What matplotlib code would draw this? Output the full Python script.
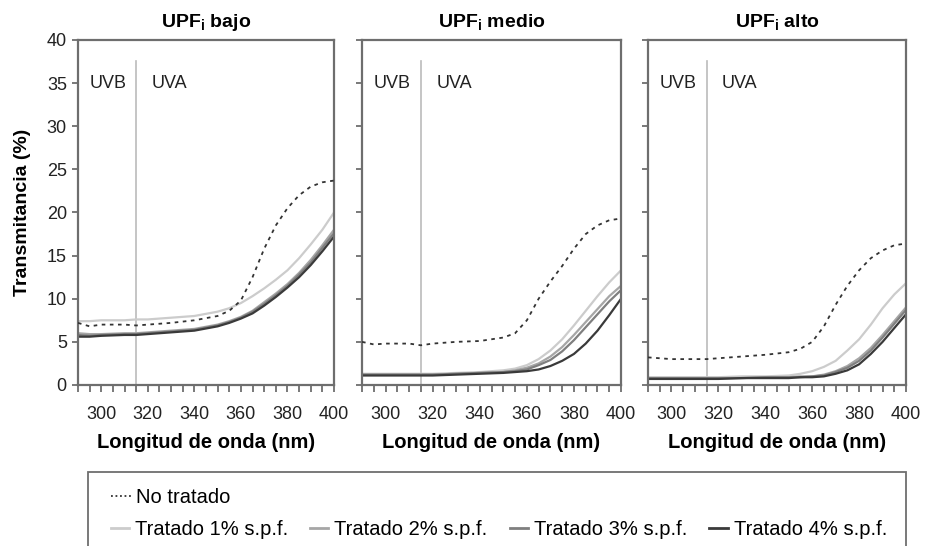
import matplotlib.pyplot as plt
from matplotlib.lines import Line2D
from matplotlib.patches import Rectangle

plt.rcParams['font.family'] = ['Liberation Sans', 'DejaVu Sans']

# wavelength grid (nm)
wl = [290, 295, 300, 310, 315, 320, 330, 340, 350, 355, 360, 365, 370, 375, 380, 385, 390, 395, 400]

titles = ['UPF$_\\mathregular{i}$ bajo', 'UPF$_\\mathregular{i}$ medio', 'UPF$_\\mathregular{i}$ alto']

# UPF bajo
bajo_nt = [7.2, 6.8, 7.0, 7.0, 6.9, 7.0, 7.2, 7.5, 8.0, 8.6, 9.8, 12.5, 15.8, 18.5, 20.5, 22.0, 23.0, 23.5, 23.7]
bajo_1 = [7.4, 7.4, 7.5, 7.5, 7.6, 7.6, 7.8, 8.0, 8.5, 8.9, 9.5, 10.3, 11.2, 12.2, 13.3, 14.7, 16.3, 18.0, 20.0]
bajo_2 = [6.0, 5.9, 5.9, 6.0, 6.0, 6.1, 6.3, 6.5, 7.0, 7.4, 7.9, 8.6, 9.6, 10.6, 11.7, 13.0, 14.5, 16.2, 18.0]
bajo_3 = [5.8, 5.7, 5.8, 5.9, 5.9, 6.0, 6.2, 6.4, 6.9, 7.3, 7.8, 8.5, 9.4, 10.4, 11.5, 12.8, 14.2, 15.9, 17.6]
bajo_4 = [5.6, 5.6, 5.7, 5.8, 5.8, 5.9, 6.1, 6.3, 6.8, 7.2, 7.7, 8.3, 9.2, 10.2, 11.3, 12.5, 13.9, 15.5, 17.2]

# UPF medio
medio_nt = [5.0, 4.7, 4.8, 4.8, 4.6, 4.8, 5.0, 5.1, 5.5, 6.0, 7.5, 10.0, 12.0, 13.8, 15.8, 17.5, 18.5, 19.1, 19.3]
medio_1 = [1.3, 1.3, 1.3, 1.3, 1.3, 1.3, 1.4, 1.5, 1.7, 1.9, 2.3, 3.0, 4.0, 5.3, 6.9, 8.6, 10.3, 11.9, 13.3]
medio_2 = [1.2, 1.2, 1.2, 1.2, 1.2, 1.2, 1.3, 1.4, 1.5, 1.7, 2.0, 2.5, 3.3, 4.4, 5.8, 7.3, 8.8, 10.3, 11.5]
medio_3 = [1.2, 1.2, 1.2, 1.2, 1.2, 1.2, 1.3, 1.4, 1.5, 1.6, 1.8, 2.3, 2.9, 3.9, 5.2, 6.7, 8.2, 9.7, 11.0]
medio_4 = [1.1, 1.1, 1.1, 1.1, 1.1, 1.1, 1.2, 1.3, 1.4, 1.5, 1.6, 1.8, 2.2, 2.8, 3.6, 4.8, 6.3, 8.1, 10.0]

# UPF alto
alto_nt = [3.2, 3.1, 3.0, 3.0, 3.0, 3.1, 3.3, 3.5, 3.8, 4.2, 5.0, 6.8, 9.3, 11.5, 13.3, 14.7, 15.6, 16.2, 16.4]
alto_1 = [0.9, 0.9, 0.9, 0.9, 0.9, 0.9, 1.0, 1.0, 1.1, 1.3, 1.6, 2.1, 2.8, 4.0, 5.3, 7.0, 8.9, 10.5, 11.8]
alto_2 = [0.8, 0.8, 0.8, 0.8, 0.8, 0.8, 0.8, 0.9, 0.9, 1.0, 1.0, 1.2, 1.6, 2.2, 3.1, 4.3, 5.8, 7.4, 9.0]
alto_3 = [0.8, 0.8, 0.8, 0.8, 0.8, 0.8, 0.8, 0.9, 0.9, 0.9, 1.0, 1.1, 1.5, 2.0, 2.8, 4.0, 5.5, 7.1, 8.7]
alto_4 = [0.7, 0.7, 0.7, 0.7, 0.7, 0.7, 0.8, 0.8, 0.8, 0.9, 0.9, 1.0, 1.3, 1.7, 2.4, 3.6, 5.0, 6.6, 8.2]

panels = [
    (bajo_nt, [bajo_1, bajo_2, bajo_3, bajo_4]),
    (medio_nt, [medio_1, medio_2, medio_3, medio_4]),
    (alto_nt, [alto_1, alto_2, alto_3, alto_4]),
]

labels_tr = ['Tratado 1% s.p.f.', 'Tratado 2% s.p.f.', 'Tratado 3% s.p.f.', 'Tratado 4% s.p.f.']
colors_tr = ['#cccccc', '#a6a6a6', '#7f7f7f', '#3a3a3a']
nt_color = '#333333'
spine_color = '#6e6e6e'

fig = plt.figure(figsize=(9.25, 5.46), dpi=100)

lefts = [0.0843, 0.3914, 0.7005]
widths = [0.2768, 0.28, 0.279]
bottom, height = 0.2949, 0.6319

for i, (nt, treated) in enumerate(panels):
    ax = fig.add_axes([lefts[i], bottom, widths[i], height])
    ax.axvline(315, ymin=0, ymax=0.94, color='#bbbbbb', lw=1.2, zorder=1)
    for vals, c in zip(treated, colors_tr):
        ax.plot(wl, vals, color=c, lw=1.6, zorder=2)
    ax.plot(wl, nt, color=nt_color, lw=1.3, ls=(0, (2, 2.5)), zorder=3)

    ax.set_xlim(290, 400)
    ax.set_ylim(0, 40)
    ax.set_xticks(range(300, 401, 20))
    ax.set_xticks(range(290, 401, 5), minor=True)
    ax.set_yticks(range(0, 41, 5))
    ax.tick_params(axis='both', which='both', direction='out', color=spine_color,
                   width=1.3, labelsize=13, labelcolor='#222222')
    ax.tick_params(axis='x', which='major', length=5, pad=10)
    ax.tick_params(axis='x', which='minor', length=5)
    ax.tick_params(axis='y', length=4.5, pad=3.5)
    if i > 0:
        ax.set_yticklabels([])
    else:
        ax.set_ylabel('Transmitancia (%)', fontsize=14, fontweight='bold', labelpad=11)
    for s in ax.spines.values():
        s.set_color(spine_color)
        s.set_linewidth(1.6)

    ax.text(295, 35, 'UVB', fontsize=13, va='center', ha='left', color='#222222')
    ax.text(321.5, 35, 'UVA', fontsize=13, va='center', ha='left', color='#222222')
    ax.set_title(titles[i], fontsize=14, fontweight='bold', pad=9)
    ax.set_xlabel('Longitud de onda (nm)', fontsize=14.5, fontweight='bold', labelpad=7)

# legend box
fig.patches.append(Rectangle((0.095, -0.05), 0.884, 0.186, transform=fig.transFigure,
                             facecolor='white', edgecolor=spine_color, lw=1.3))

leg_font = {'family': ['Liberation Sans', 'DejaVu Sans'], 'size': 14.5}
h_nt = [Line2D([], [], color=nt_color, lw=1.3, ls=(0, (1, 1.5)))]
fig.legend(h_nt, ['No tratado'], loc='center left', bbox_to_anchor=(0.1, 0.089),
           frameon=False, prop=leg_font, handlelength=1.0, handletextpad=0.25)
h_tr = [Line2D([], [], color=c, lw=2.0) for c in colors_tr]
fig.legend(h_tr, labels_tr, loc='center left', bbox_to_anchor=(0.1, 0.03), ncol=4,
           frameon=False, prop=leg_font, handlelength=0.9, handletextpad=0.3,
           columnspacing=1.1)

fig.savefig('out.png', dpi=100)
